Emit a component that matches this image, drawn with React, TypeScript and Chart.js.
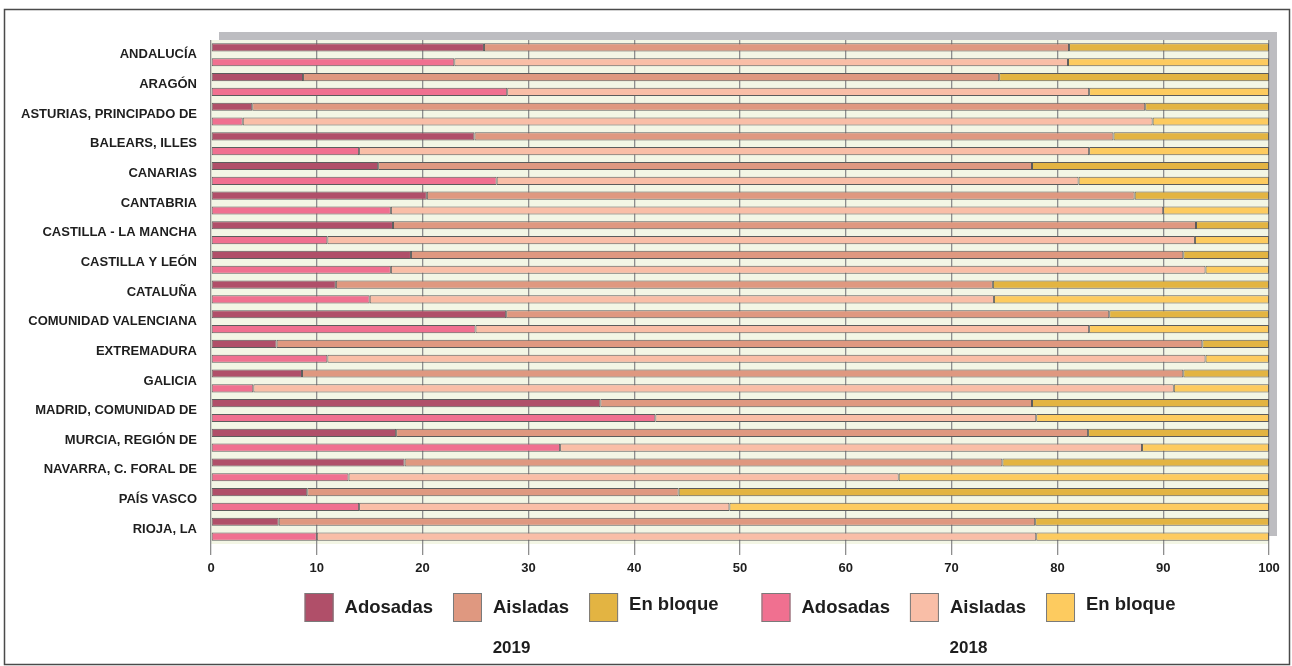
import React, { useEffect, useRef } from "react";
import { Chart, registerables } from "chart.js";

Chart.register(...registerables);

const regions = [
  "ANDALUCÍA",
  "ARAGÓN",
  "ASTURIAS, PRINCIPADO DE",
  "BALEARS, ILLES",
  "CANARIAS",
  "CANTABRIA",
  "CASTILLA - LA MANCHA",
  "CASTILLA Y LEÓN",
  "CATALUÑA",
  "COMUNIDAD VALENCIANA",
  "EXTREMADURA",
  "GALICIA",
  "MADRID, COMUNIDAD DE",
  "MURCIA, REGIÓN DE",
  "NAVARRA, C. FORAL DE",
  "PAÍS VASCO",
  "RIOJA, LA",
];

const adosadas2019 = [25.8, 8.7, 3.9, 24.9, 15.8, 20.4, 17.2, 18.9, 11.8, 27.9, 6.2, 8.6, 36.8, 17.5, 18.3, 9.1, 6.4];
const aisladas2019 = [55.3, 65.8, 84.4, 60.4, 61.8, 66.9, 75.9, 73.0, 62.1, 57.0, 87.5, 83.3, 40.8, 65.4, 56.5, 35.1, 71.5];
const bloque2019 = [18.9, 25.5, 11.7, 14.7, 22.4, 12.7, 6.9, 8.1, 26.1, 15.1, 6.3, 8.1, 22.4, 17.1, 25.2, 55.8, 22.1];

const adosadas2018 = [23, 28, 3, 14, 27, 17, 11, 17, 15, 25, 11, 4, 42, 33, 13, 14, 10];
const aisladas2018 = [58, 55, 86, 69, 55, 73, 82, 77, 59, 58, 83, 87, 36, 55, 52, 35, 68];
const bloque2018 = [19, 17, 11, 17, 18, 10, 7, 6, 26, 17, 6, 9, 22, 12, 35, 51, 22];

const seriesLabels = ["Adosadas", "Aisladas", "En bloque"];
const years = ["2019", "2018"];

function hasFont(name: string): boolean {
  const c = document.createElement("canvas").getContext("2d");
  if (!c) return false;
  const t = "COMUNIDAD VALENCIANA 0123";
  c.font = `bold 30px "${name}", monospace`;
  const a = c.measureText(t).width;
  c.font = "bold 30px monospace";
  const b = c.measureText(t).width;
  return Math.abs(a - b) > 0.5;
}

export default function App() {
  const ref = useRef<HTMLCanvasElement | null>(null);

  useEffect(() => {
    if (!ref.current) return;
    const narrow = hasFont("Liberation Sans Narrow");
    const axisFamily = narrow ? '"Liberation Sans Narrow", "Liberation Sans", Arial, sans-serif' : '"Liberation Sans", Arial, sans-serif';
    const labelSize = narrow ? 16 : 13;
    const tickSize = narrow ? 15 : 13;
    const legendFamily = '"Liberation Sans", Arial, sans-serif';

    const colors2019 = ["#b04f69", "#df9880", "#e3b442"];
    const colors2018 = ["#f07090", "#f9bea7", "#fdcb5f"];
    const data2019 = [adosadas2019, aisladas2019, bloque2019];
    const data2018 = [adosadas2018, aisladas2018, bloque2018];

    const datasets: any[] = [];
    data2019.forEach((d, i) =>
      datasets.push({
        label: seriesLabels[i],
        data: d,
        stack: years[0],
        backgroundColor: colors2019[i],
        borderColor: "#5c5c5c",
        borderWidth: 1,
        borderSkipped: false,
        categoryPercentage: 1.0,
        barPercentage: 0.55,
      })
    );
    data2018.forEach((d, i) =>
      datasets.push({
        label: seriesLabels[i],
        data: d,
        stack: years[1],
        backgroundColor: colors2018[i],
        borderColor: "#5c5c5c",
        borderWidth: 1,
        borderSkipped: false,
        categoryPercentage: 1.0,
        barPercentage: 0.55,
      })
    );

    const decor = {
      id: "decor",
      beforeDraw(chart: any) {
        const { ctx, chartArea: a, width, height } = chart;
        ctx.save();
        ctx.fillStyle = "#ffffff";
        ctx.fillRect(0, 0, width, height);
        ctx.strokeStyle = "#4a4a4a";
        ctx.lineWidth = 1.5;
        ctx.strokeRect(4.5, 9.5, 1285, 655);
        ctx.fillStyle = "#bdbdc1";
        ctx.fillRect(a.left + 8, a.top - 8, a.right - a.left, a.bottom - a.top);
        ctx.fillStyle = "#f3f6e5";
        ctx.fillRect(a.left, a.top, a.right - a.left, a.bottom - a.top);
        ctx.restore();
      },
      afterDraw(chart: any) {
        const { ctx, chartArea: a } = chart;
        ctx.save();
        ctx.font = `bold 18.5px ${legendFamily}`;
        const box = 29;
        const gapText = 11;
        const gapItem = 20;
        const gapGroup = 43;
        const ds = chart.data.datasets;
        const widths = ds.map((d: any) => ctx.measureText(d.label).width);
        let total = 0;
        widths.forEach((w: number, i: number) => {
          total += box + gapText + w;
          if (i < widths.length - 1) total += i === 2 ? gapGroup : gapItem;
        });
        let x = (a.left + a.right) / 2 - total / 2;
        const boxTop = 593;
        const groupBounds: number[][] = [[0, 0], [0, 0]];
        ds.forEach((d: any, i: number) => {
          const g = i < 3 ? 0 : 1;
          if (i % 3 === 0) groupBounds[g][0] = x;
          ctx.fillStyle = d.backgroundColor;
          ctx.fillRect(x, boxTop, box, box);
          ctx.strokeStyle = "#7a7a7a";
          ctx.lineWidth = 1;
          ctx.strokeRect(x + 0.5, boxTop + 0.5, box - 1, box - 1);
          ctx.fillStyle = "#1e1e1e";
          ctx.textAlign = "left";
          ctx.textBaseline = "middle";
          ctx.fillText(d.label, x + box + gapText, i % 3 === 2 ? 605 : 608);
          x += box + gapText + widths[i];
          if (i % 3 === 2) groupBounds[g][1] = x;
          if (i < ds.length - 1) x += i === 2 ? gapGroup : gapItem;
        });
        ctx.font = `bold 17px ${legendFamily}`;
        ctx.textAlign = "center";
        ctx.textBaseline = "middle";
        ctx.fillStyle = "#1e1e1e";
        years.forEach((y, g) => {
          ctx.fillText(y, (groupBounds[g][0] + groupBounds[g][1]) / 2, 648);
        });
        ctx.restore();
      },
    };

    const chart = new Chart(ref.current, {
      type: "bar",
      data: { labels: regions, datasets },
      plugins: [decor],
      options: {
        indexAxis: "y",
        animation: false,
        responsive: false,
        maintainAspectRatio: false,
        layout: { padding: { left: 0, right: 23, top: 40, bottom: 0 } },
        plugins: {
          legend: { display: false },
          tooltip: { enabled: false },
          title: { display: false },
        },
        scales: {
          x: {
            stacked: true,
            min: 0,
            max: 100,
            afterFit: (s: any) => {
              s.height = 122;
            },
            border: { display: false },
            grid: {
              color: "#8e8e8e",
              lineWidth: 1.3,
              drawTicks: true,
              tickLength: 11,
              tickColor: "#8e8e8e",
            },
            ticks: {
              stepSize: 10,
              padding: 6,
              color: "#1e1e1e",
              font: { family: axisFamily, size: tickSize, weight: "bold" },
            },
          },
          y: {
            stacked: true,
            afterFit: (s: any) => {
              s.width = 211;
            },
            border: { display: false },
            grid: { display: false, drawTicks: false },
            ticks: {
              padding: 14,
              color: "#1e1e1e",
              autoSkip: false,
              font: { family: axisFamily, size: labelSize, weight: "bold" },
            },
          },
        },
      } as any,
    });
    return () => chart.destroy();
  }, []);

  return (
    <div style={{ position: "absolute", left: 0, top: 0, width: 1292, height: 666 }}>
      <canvas ref={ref} width={1292} height={666} style={{ width: 1292, height: 666, display: "block" }} />
    </div>
  );
}
